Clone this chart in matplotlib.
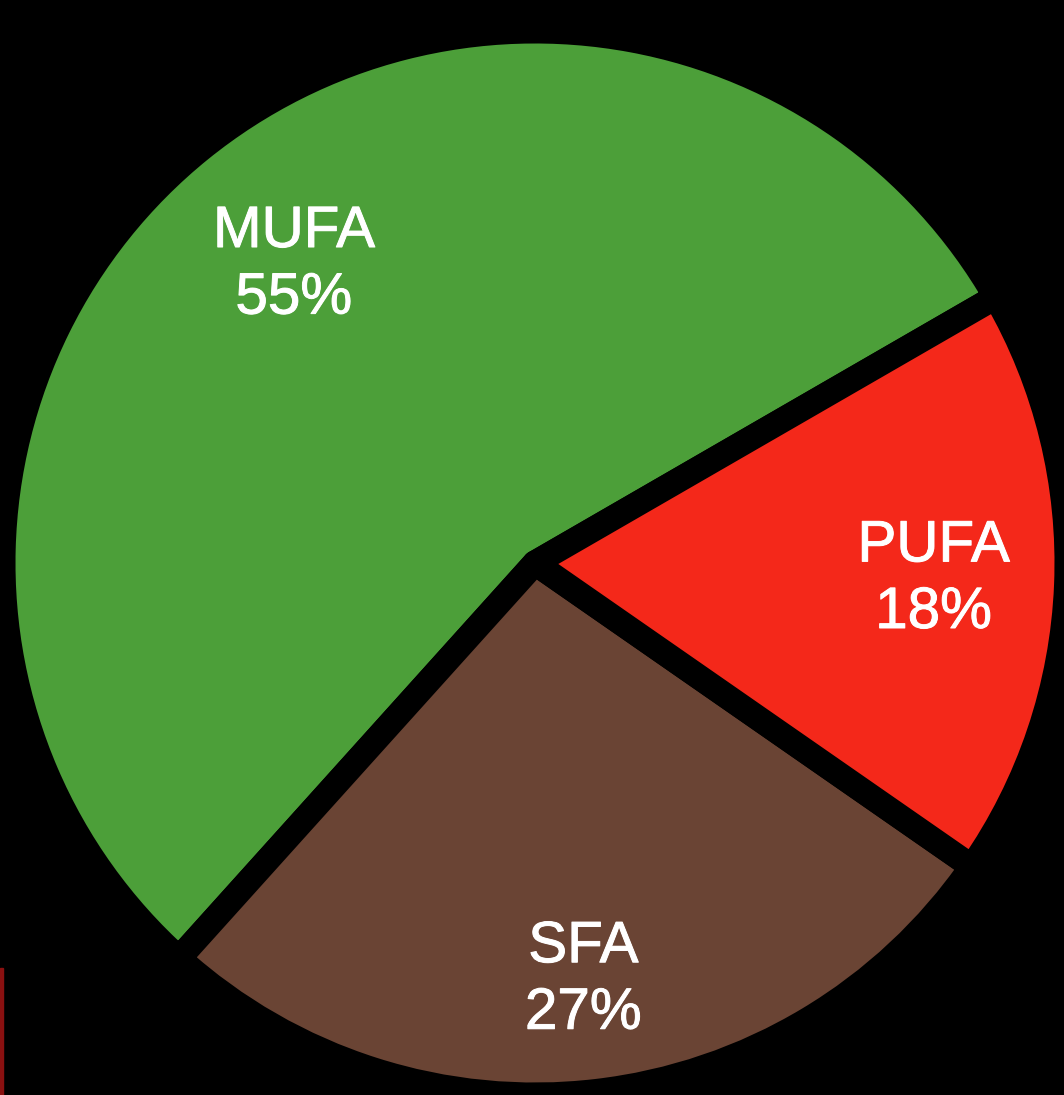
import numpy as np
import matplotlib
matplotlib.use("Agg")
import matplotlib.pyplot as plt
import matplotlib.patheffects as pe
from matplotlib.patches import Rectangle

# ---------------------------------------------------------------------------
# Data
# ---------------------------------------------------------------------------
labels = ["MUFA", "SFA", "PUFA"]
shares = [55, 27, 18]
colors = ["#4c9f39", "#6a4434", "#f4281a"]
label_radius = [0.72, 0.79, 0.75]   # how far out each label sits

plt.rcParams["font.family"] = ["Liberation Sans", "DejaVu Sans"]

fig = plt.figure(figsize=(10.64, 10.95), dpi=100, facecolor="black")
ax = fig.add_axes([0, 0, 1, 1])
ax.set_facecolor("black")

wedges, _ = ax.pie(
    shares,
    colors=colors,
    startangle=30,
    counterclock=True,
    wedgeprops=dict(edgecolor="black", linewidth=18, joinstyle="round"),
)

for w, lab, val, r in zip(wedges, labels, shares, label_radius):
    mid = np.deg2rad((w.theta1 + w.theta2) / 2)
    ax.text(r * np.cos(mid), r * np.sin(mid), f"{lab}\n{val}%",
            ha="center", va="center", color="white", fontsize=42,
            linespacing=1.3,
            path_effects=[pe.withStroke(linewidth=0.7, foreground="white")])

# pixel mapping: centre at (535, 563) px, 532 px per unit
ax.set_xlim(-535 / 532, (1064 - 535) / 532)
ax.set_ylim(-(1095 - 563) / 532, 563 / 532)
ax.set_aspect("auto")
ax.axis("off")

# thin dark red sliver on the left edge
fig.patches.append(Rectangle((0, 0), 2.5 / 1064, 127 / 1095,
                             transform=fig.transFigure, color="#8a1010"))

fig.savefig("out.png", dpi=100, facecolor="black")
